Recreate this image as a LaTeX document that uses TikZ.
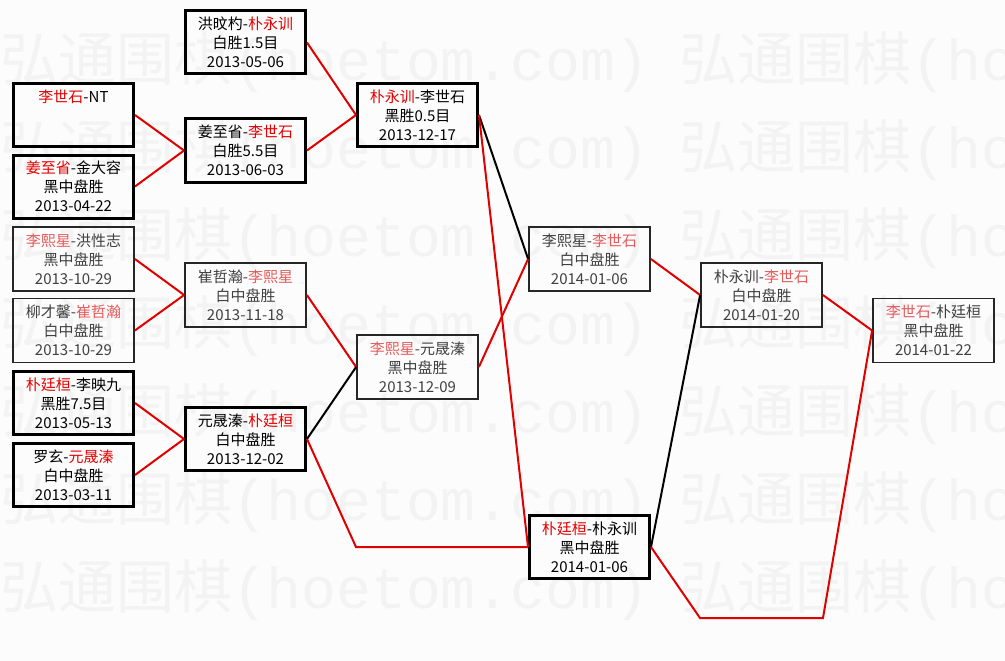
\documentclass[tikz,border=0pt]{standalone}
\usepackage{fontspec}
\newfontfamily\cjk{Noto Sans CJK SC}
\newfontfamily\wmmono{Liberation Mono}
\definecolor{wRed}{HTML}{E60000}
\definecolor{wRedL}{HTML}{E65A5A}
\definecolor{lRed}{HTML}{E00000}
\definecolor{wMark}{HTML}{F3F3F3}
\definecolor{bgGray}{HTML}{FCFCFC}
\newcommand{\wn}[1]{\textcolor{wRed}{#1}}

\begin{document}
\begin{tikzpicture}[x=1pt, y=-1pt,
      game/.style={draw, line width=3pt, minimum width=120pt, minimum height=63pt,
        inner sep=1pt, align=center, font=\cjk\fontsize{15}{19}\selectfont},
      gamelt/.style={game, line width=1.8pt, draw=black!85, text=black!75,
        minimum width=121pt, minimum height=64pt,
        execute at begin node={\colorlet{wRed}{wRedL}}},
      link/.style={line width=2pt}]
    \fill[bgGray] (0,0) rectangle (1005,661);
    \useasboundingbox (0,0) rectangle (1005,661);
    % watermark rows
    \begin{scope}
      \clip (0,0) rectangle (1005,661);
      \foreach \y in {62,150,...,590}
        \node[text=wMark, anchor=west, inner sep=0pt, font=\fontsize{58}{58}\selectfont] (wm\y) at (0,\y)
          {{\cjk 弘通围棋}{\wmmono(hoetom.com)}\hspace{30pt}{\cjk 弘通围棋}{\wmmono(hoetom.com)}};
    \end{scope}
    % round 1
    \node[game] (a1) at (73.5,115) {\wn{李世石}-NT\\~\\~};
    \node[game] (a2) at (73.5,186.5) {\wn{姜至省}-金大容\\黑中盘胜\\2013-04-22};
    \node[gamelt] (a3) at (73.5,259) {\wn{李熙星}-洪性志\\黑中盘胜\\2013-10-29};
    \node[gamelt] (a4) at (73.5,330.5) {柳才馨-\wn{崔哲瀚}\\白中盘胜\\2013-10-29};
    \node[game] (a5) at (73.5,403) {\wn{朴廷桓}-李映九\\黑胜7.5目\\2013-05-13};
    \node[game] (a6) at (73.5,475) {罗玄-\wn{元晟溱}\\白中盘胜\\2013-03-11};
    % round 2
    \node[game] (b1) at (245.5,42.5) {洪旼杓-\wn{朴永训}\\白胜1.5目\\2013-05-06};
    \node[game] (b2) at (245.5,150.5) {姜至省-\wn{李世石}\\白胜5.5目\\2013-06-03};
    \node[gamelt] (b3) at (245.5,295) {崔哲瀚-\wn{李熙星}\\白中盘胜\\2013-11-18};
    \node[game] (b4) at (245.5,439) {元晟溱-\wn{朴廷桓}\\白中盘胜\\2013-12-02};
    % round 3 and on
    \node[game] (c1) at (417.5,115) {\wn{朴永训}-李世石\\黑胜0.5目\\2013-12-17};
    \node[gamelt] (c2) at (417.5,367) {\wn{李熙星}-元晟溱\\黑中盘胜\\2013-12-09};
    \node[gamelt] (d1) at (589.5,259) {李熙星-\wn{李世石}\\白中盘胜\\2014-01-06};
    \node[game] (d2) at (589.5,547) {\wn{朴廷桓}-朴永训\\黑中盘胜\\2014-01-06};
    \node[gamelt] (e1) at (761.5,295) {朴永训-\wn{李世石}\\白中盘胜\\2014-01-20};
    \node[gamelt] (f1) at (933.5,330.5) {\wn{李世石}-朴廷桓\\黑中盘胜\\2014-01-22};
    % from / to / colour
    \foreach \s/\t/\c in {a1/b2/lRed, a2/b2/lRed, a3/b3/lRed, a4/b3/lRed, a5/b4/lRed,
        a6/b4/lRed, b1/c1/lRed, b2/c1/lRed, b3/c2/lRed, b4/c2/black, c1/d1/black,
        c1/d2/lRed, c2/d1/lRed, d1/e1/lRed, d2/e1/black, e1/f1/lRed}
      \draw[link, \c] (\s.east) -- (\t.west);
    \coordinate (k1) at (356,547);
    \coordinate (k2) at (700,618);
    \coordinate (k3) at (823,618);
    \draw[link, lRed] (b4.east) -- (k1) -- (d2.west);
    \draw[link, lRed] (d2.east) -- (k2) -- (k3) -- (f1.west);
  \end{tikzpicture}
\end{document}
